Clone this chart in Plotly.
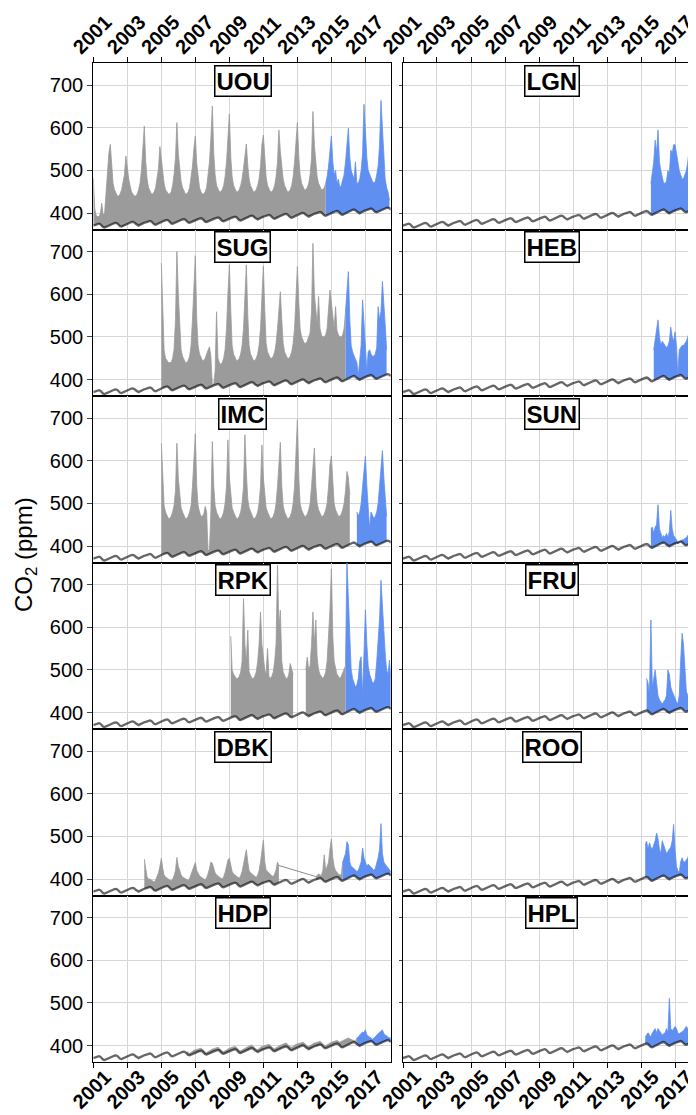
import pandas as pd
import plotly.graph_objects as go

FONT = "Liberation Sans, Arial, Helvetica, sans-serif"

# ---------------- data (ppm), monthly ----------------
# background CO2 (Jan 2001 .. Jul 2018)
background_co2 = [
    371.0, 372.0, 373.2, 374.6, 375.2, 373.9, 370.6, 367.3, 366.4, 368.1, 370.3, 372.0,
    373.0, 374.0, 375.2, 376.6, 377.2, 375.9, 372.6, 369.3, 368.4, 370.1, 372.3, 374.0,
    375.5, 376.5, 377.7, 379.1, 379.7, 378.4, 375.1, 371.8, 370.9, 372.6, 374.8, 376.5,
    377.5, 378.5, 379.7, 381.1, 381.7, 380.4, 377.1, 373.8, 372.9, 374.6, 376.8, 378.5,
    379.8, 380.8, 382.0, 383.4, 384.0, 382.7, 379.4, 376.1, 375.2, 376.9, 379.1, 380.8,
    381.9, 382.9, 384.1, 385.5, 386.1, 384.8, 381.5, 378.2, 377.3, 379.0, 381.2, 382.9,
    383.8, 384.8, 386.0, 387.4, 388.0, 386.7, 383.4, 380.1, 379.2, 380.9, 383.1, 384.8,
    385.6, 386.6, 387.8, 389.2, 389.8, 388.5, 385.2, 381.9, 381.0, 382.7, 384.9, 386.6,
    387.4, 388.4, 389.6, 391.0, 391.6, 390.3, 387.0, 383.7, 382.8, 384.5, 386.7, 388.4,
    389.9, 390.9, 392.1, 393.5, 394.1, 392.8, 389.5, 386.2, 385.3, 387.0, 389.2, 390.9,
    391.7, 392.7, 393.9, 395.3, 395.9, 394.6, 391.3, 388.0, 387.1, 388.8, 391.0, 392.7,
    393.9, 394.9, 396.1, 397.5, 398.1, 396.8, 393.5, 390.2, 389.3, 391.0, 393.2, 394.9,
    396.5, 397.5, 398.7, 400.1, 400.7, 399.4, 396.1, 392.8, 391.9, 393.6, 395.8, 397.5,
    398.6, 399.6, 400.8, 402.2, 402.8, 401.5, 398.2, 394.9, 394.0, 395.7, 397.9, 399.6,
    400.8, 401.8, 403.0, 404.4, 405.0, 403.7, 400.4, 397.1, 396.2, 397.9, 400.1, 401.8,
    404.2, 405.2, 406.4, 407.8, 408.4, 407.1, 403.8, 400.5, 399.6, 401.3, 403.5, 405.2,
    406.5, 407.5, 408.7, 410.1, 410.7, 409.4, 406.1, 402.8, 401.9, 403.6, 405.8, 407.5,
    408.7, 409.7, 410.9, 412.3, 412.9, 411.6, 408.4,
]

# ---- UOU
uou_gray = [  # from 2001-01
    482, 410, 395, 392, 392, 398, 423, 395, 400, 450, 500, 540,
    561, 505, 470, 455, 445, 440, 440, 445, 455, 470, 490, 534,
    500, 480, 465, 450, 445, 440, 440, 445, 455, 470, 500, 545,
    604, 520, 480, 460, 450, 445, 445, 450, 460, 480, 505, 556,
    520, 490, 470, 455, 450, 445, 445, 450, 465, 490, 530, 612,
    540, 495, 475, 460, 450, 445, 445, 450, 460, 480, 510, 550,
    581, 515, 480, 460, 450, 445, 445, 450, 460, 485, 520, 575,
    651, 540, 490, 465, 455, 450, 450, 455, 465, 485, 520, 580,
    632, 530, 485, 465, 455, 450, 450, 455, 465, 480, 505, 540,
    562, 510, 480, 465, 455, 450, 450, 455, 465, 480, 510, 560,
    583, 520, 485, 465, 455, 450, 450, 455, 465, 485, 520, 595,
    545, 500, 480, 465, 455, 450, 450, 455, 465, 485, 520, 570,
    612, 530, 490, 470, 460, 455, 455, 460, 470, 490, 530, 638,
    560, 510, 485, 470, 460, 455, 455, 460,
]
uou_blue = [  # from 2014-09
    470, 485, 510, 545,
    581, 520, 490, 500, 470, 480, 460, 465, 475, 490, 520, 560,
    599, 530, 500, 490, 480, 520, 470, 470, 480, 500, 540, 655,
    580, 530, 500, 490, 480, 475, 470, 475, 490, 510, 560, 664,
    600, 520, 480, 460, 450, 430,
]

# ---- SUG
sug_gray = [  # from 2005-01
    673, 540, 470, 450, 445, 440, 440, 440, 450, 470, 540, 700,
    600, 520, 470, 455, 445, 440, 440, 445, 455, 480, 540, 620,
    690, 540, 480, 460, 450, 445, 445, 450, 460, 470, 477, 455,
    388, 389, 420, 559, 450, 440, 435, 440, 450, 470, 520, 600,
    669, 560, 480, 460, 450, 445, 445, 450, 460, 480, 520, 580,
    669, 550, 480, 460, 450, 445, 445, 450, 460, 480, 520, 590,
    666, 560, 485, 465, 455, 450, 450, 455, 465, 485, 520, 570,
    606, 540, 485, 465, 455, 450, 450, 455, 465, 485, 520, 580,
    665, 580, 520, 500, 490, 485, 485, 490, 500, 510, 560, 719,
    600, 560, 530, 595, 520, 505, 500, 500, 505, 520, 560, 610,
    580, 540, 520, 571, 515, 505, 500, 500, 505, 520,
]
sug_blue = [  # from 2015-11
    560, 600,
    653, 540, 480, 465, 455, 450, 440, 410, 455, 480, 587, 540,
    470, 420, 465, 470, 460, 455, 455, 460, 475, 571, 540, 560,
    630, 560, 530, 470,
]

# ---- IMC
imc_gray = [  # from 2005-01
    641, 540, 495, 480, 470, 465, 465, 470, 480, 495, 530, 641,
    560, 510, 490, 480, 470, 465, 465, 470, 480, 495, 540, 610,
    663, 540, 495, 480, 470, 470, 475, 493, 480, 390, 392, 480,
    645, 540, 495, 480, 470, 465, 465, 470, 480, 500, 540, 649,
    560, 510, 490, 480, 470, 465, 465, 470, 480, 500, 540, 661,
    570, 510, 490, 480, 470, 465, 465, 470, 480, 500, 540, 637,
    560, 510, 490, 480, 470, 465, 465, 470, 480, 500, 540, 600,
    643, 540, 495, 480, 470, 465, 465, 470, 480, 500, 540, 610,
    696, 560, 500, 485, 475, 470, 470, 475, 485, 500, 540, 600,
    630, 540, 500, 485, 475, 470, 470, 475, 485, 500, 540, 590,
    611, 540, 500, 485, 475, 470, 470, 475, 485, 500, 530, 575,
    560, 520,
]
imc_blue = [  # from 2016-07
    480, 470, 480, 500, 540, 580,
    611, 540, 500, 440, 480, 470, 465, 470, 480, 500, 540, 590,
    624, 560, 520, 470,
]

# ---- RPK
rpk_gray_a = [  # from 2009-02
    579, 500, 490, 485, 480, 480, 485, 495, 520, 667,
    560, 520, 593, 495, 485, 480, 480, 485, 495, 520, 560, 636,
    560, 520, 500, 490, 550, 485, 480, 485, 495, 520, 560, 745,
    600, 640, 520, 495, 485, 480, 480, 490, 515, 500, 490,
]
rpk_gray_b = [  # from 2013-07
    500, 530, 500, 510, 560, 636,
    560, 617, 530, 500, 490, 485, 480, 485, 495, 520, 580, 640,
    737, 578, 520, 500, 490, 485, 480, 485, 495, 500,
]
rpk_blue = [  # from 2015-11
    510, 760,
    667, 560, 500, 480, 470, 460, 465, 480, 520, 531, 440, 560,
    641, 560, 510, 490, 480, 470, 470, 480, 520, 560, 620, 710,
    647, 580, 540, 500, 490, 523, 480,
]

# ---- DBK
dbk_gray_a = [  # from 2004-01
    447, 420, 405, 400, 400, 398, 395, 393, 398, 405, 415, 430,
    449, 425, 410, 405, 402, 400, 398, 396, 400, 408, 420, 451,
    430, 420, 410, 405, 403, 400, 398, 397, 402, 410, 420, 430,
    439, 420, 412, 408, 405, 402, 400, 398, 404, 412, 425, 440,
    437, 425, 415, 410, 407, 404, 402, 400, 406, 415, 430, 445,
    449, 430, 418, 412, 410, 407, 404, 402, 408, 418, 435, 455,
    469, 440, 420, 415, 412, 409, 406, 404, 410, 420, 440, 460,
    491, 440, 422, 418, 414, 410, 408, 406, 412, 422, 440, 432,
]
dbk_gray_b = [  # from 2014-02
    406, 410, 412, 410, 408, 420, 457, 420, 430, 440, 470,
    494, 450, 430, 420, 415, 412, 410, 410,
]
dbk_blue = [  # from 2015-09
    440, 450, 460, 488,
    480, 440, 430, 428, 425, 420, 418, 420, 430, 440, 473, 450,
    440, 430, 435, 430, 428, 425, 420, 425, 435, 450, 470, 530,
    460, 440, 435, 430, 425, 420, 418,
]

# ---- HDP
hdp_gray = [  # from 2006-07
    386, 383, 382, 384, 387, 389,
    390, 391, 392, 393, 394, 392, 388, 385, 384, 386, 389, 391,
    392, 393, 394, 395, 396, 394, 390, 387, 386, 388, 391, 393,
    394, 395, 396, 398, 398, 396, 392, 389, 388, 390, 393, 395,
    397, 398, 399, 401, 401, 399, 395, 392, 391, 393, 396, 398,
    399, 400, 401, 403, 403, 401, 397, 394, 393, 395, 398, 400,
    401, 402, 404, 405, 406, 404, 400, 397, 396, 398, 401, 403,
    404, 405, 406, 408, 408, 406, 402, 399, 398, 400, 403, 405,
    406, 407, 408, 410, 410, 408, 404, 401, 400, 402, 405, 407,
    408, 409, 410, 412, 412, 410, 408, 410, 412, 414, 415, 416,
    418, 416, 414, 413, 412, 410,
]
hdp_blue = [  # from 2016-07
    418, 420, 425, 428, 432, 430,
    437, 425, 422, 420, 418, 415, 418, 420, 425, 428, 430, 433,
    437, 428, 425, 422, 420, 418, 420,
]

# ---- right column sites (all blue)
lgn_blue = [  # from 2015-08
    470, 490, 520, 571, 540,
    595, 520, 500, 480, 470, 470, 475, 500, 490, 548, 540, 560,
    560, 540, 520, 500, 490, 480, 480, 490, 500, 520, 560, 580,
    570, 540, 520, 500, 490, 480, 480,
]
heb_blue = [  # from 2015-10
    470, 490, 510,
    540, 500, 480, 490, 485, 480, 475, 480, 490, 523, 500, 490,
    512, 480, 410, 470, 475, 480, 480, 485, 490, 500, 510, 520,
    510, 500, 490, 480,
]
sun_blue = [  # from 2015-08
    440, 445, 430, 445, 450,
    497, 440, 430, 420, 425, 420, 430, 420, 435, 484, 440, 425,
    420, 415, 405, 410, 412, 415, 415, 418, 420, 425, 430, 555,
    500, 460, 440, 430,
]
fru_blue = [  # from 2015-05
    480, 470, 440, 617, 460, 480, 500, 470,
    440, 430, 425, 420, 425, 430, 440, 500, 490, 460, 450, 440,
    430, 425, 420, 440, 520, 586, 560, 500, 450, 440, 430, 440,
    450, 440, 430, 425,
]
roo_blue = [  # from 2015-04
    480, 489, 470, 485, 475, 470, 480, 490, 508,
    495, 470, 460, 490, 480, 470, 460, 465, 470, 475, 490, 528,
    470, 430, 420, 415, 440, 450, 440, 440, 445, 450, 460, 470,
    460, 450, 440,
]
hpl_blue = [  # from 2015-04
    420, 425, 430, 425, 420, 430, 435, 440, 430,
    440, 435, 430, 425, 428, 430, 440, 430, 511, 440, 435, 440,
    445, 440, 430, 428, 430, 432, 435, 440, 445, 440, 438, 445,
    450, 445, 440,
]

site_names = ["UOU", "LGN", "SUG", "HEB", "IMC", "SUN",
              "RPK", "FRU", "DBK", "ROO", "HDP", "HPL"]
site_segments = {
    "UOU": [("2001-01", "gray", uou_gray), ("2014-09", "blue", uou_blue)],
    "SUG": [("2005-01", "gray", sug_gray), ("2015-11", "blue", sug_blue)],
    "IMC": [("2005-01", "gray", imc_gray), ("2016-07", "blue", imc_blue)],
    "RPK": [("2009-02", "gray", rpk_gray_a), ("2013-07", "gray", rpk_gray_b),
            ("2015-11", "blue", rpk_blue)],
    "DBK": [("2004-01", "gray", dbk_gray_a), ("2014-02", "gray", dbk_gray_b),
            ("2015-09", "blue", dbk_blue)],
    "HDP": [("2006-07", "gray", hdp_gray), ("2016-07", "blue", hdp_blue)],
    "LGN": [("2015-08", "blue", lgn_blue)],
    "HEB": [("2015-10", "blue", heb_blue)],
    "SUN": [("2015-08", "blue", sun_blue)],
    "FRU": [("2015-05", "blue", fru_blue)],
    "ROO": [("2015-04", "blue", roo_blue)],
    "HPL": [("2015-04", "blue", hpl_blue)],
}
connected_gaps = {"DBK"}   # data gap bridged by a thin line in the original
y_ticks = [400, 500, 600, 700]
y_range = [361, 751]
x_tick_start = "2001-01-01"

# ---------------- styling ----------------
# page body has an 8px margin, so the figure is laid out in page px - 8
OFF = 8
W, H = 696 - OFF, 1115 - OFF
COLORS = {"gray": "#9b9b9b", "blue": "#5f8ff0"}
BG_LINE = "rgba(0,0,0,0.6)"
GRID = "#d6d6d6"

months = pd.date_range("2001-01-01", periods=len(background_co2), freq="MS")


def midx(s):
    y, m = s.split("-")
    return (int(y) - 2001) * 12 + int(m) - 1


col_px = [(93.3 - OFF, 390.7 - OFF), (403.0 - OFF, 696.0 - OFF)]
col_range_end = ["2018-06-28", "2018-03-27"]
row_top0, row_h = 63.3 - OFF, 166.5

fig = go.Figure()
layout = {}
annotations = []

for p, name in enumerate(site_names):
    r, c = divmod(p, 2)
    n = p + 1
    xa = "x" if n == 1 else f"x{n}"
    ya = "y" if n == 1 else f"y{n}"

    segs = site_segments[name]
    for k, (start, ckey, vals) in enumerate(segs):
        i0 = midx(start)
        xs = list(months[i0:i0 + len(vals)])
        lo = background_co2[i0:i0 + len(vals)]
        hi = list(vals)
        if k + 1 < len(segs):
            nstart, _, nvals = segs[k + 1]
            j0 = midx(nstart)
            if j0 == i0 + len(vals):
                xs = xs + [months[j0]]
                lo = background_co2[i0:j0 + 1]
                hi = hi + [nvals[0]]
            elif name in connected_gaps:
                fig.add_trace(go.Scatter(
                    x=[xs[-1], months[j0]], y=[hi[-1], nvals[0]], mode="lines",
                    line=dict(color="#8a8a8a", width=1), xaxis=xa, yaxis=ya,
                    showlegend=False, hoverinfo="skip"))
        fig.add_trace(go.Scatter(x=xs, y=lo, mode="lines", line=dict(width=0),
                                 xaxis=xa, yaxis=ya, showlegend=False,
                                 hoverinfo="skip"))
        fig.add_trace(go.Scatter(x=xs, y=hi, mode="lines", fill="tonexty",
                                 fillcolor=COLORS[ckey],
                                 line=dict(color=COLORS[ckey], width=0.8),
                                 xaxis=xa, yaxis=ya, showlegend=False))

    fig.add_trace(go.Scatter(x=months, y=background_co2, mode="lines",
                             line=dict(color=BG_LINE, width=2.3),
                             xaxis=xa, yaxis=ya, showlegend=False))

    x0px, x1px = col_px[c]
    top = row_top0 + r * row_h
    bot = top + row_h
    xdom = [x0px / W, min(x1px / W, 1.0)]
    ydom = [max(1 - bot / H, 0.0), 1 - top / H]

    xaxis = dict(
        domain=xdom, anchor=ya, type="date",
        range=["2001-01-01", col_range_end[c]],
        tick0=x_tick_start, dtick="M24", tickformat="%Y",
        showgrid=True, gridcolor=GRID, gridwidth=1.3,
        showline=True, linecolor="black", linewidth=1.3, mirror=True,
        zeroline=False,
        tickfont=dict(family=FONT, size=20, color="black", weight="bold"),
        tickcolor="black", ticklen=5, tickwidth=1.2,
        ticklabeloverflow="allow",
    )
    if r == 0:
        xaxis.update(side="top", ticks="outside", showticklabels=True,
                     tickangle=-45, ticklabelshift=-19, ticklabelstandoff=-9)
    elif r == 5:
        xaxis.update(side="bottom", ticks="outside", showticklabels=True,
                     tickangle=-45, ticklabelshift=12, ticklabelstandoff=-11)
    else:
        xaxis.update(ticks="", showticklabels=False)

    yaxis = dict(
        domain=ydom, anchor=xa, range=y_range, tickvals=y_ticks,
        showgrid=True, gridcolor=GRID, gridwidth=1.3,
        showline=True, linecolor="black", linewidth=1.3,
        mirror=(c == 0), zeroline=False,
        ticks="outside", ticklen=5 if c == 0 else 3, tickcolor="#444",
        tickwidth=1, showticklabels=(c == 0),
        tickfont=dict(family=FONT, size=20, color="black"),
    )
    layout["xaxis" if n == 1 else f"xaxis{n}"] = xaxis
    layout["yaxis" if n == 1 else f"yaxis{n}"] = yaxis

    cx = (242.5 if c == 0 else 551.5) - OFF
    annotations.append(dict(
        text=f"<b>{name}</b>", x=cx / W, y=1 - (top + 1.5) / H,
        xref="paper", yref="paper", xanchor="center", yanchor="top",
        showarrow=False, bgcolor="white", bordercolor="black",
        borderwidth=1.5, borderpad=1,
        font=dict(family=FONT, size=24, color="black")))

annotations.append(dict(
    text="CO<sub>2</sub> (ppm)", x=(25 - OFF) / W, y=1 - (555 - OFF) / H,
    xref="paper", yref="paper", xanchor="center", yanchor="middle",
    textangle=-90, showarrow=False,
    font=dict(family=FONT, size=24, color="black")))

fig.update_layout(
    width=W, height=H, margin=dict(l=0, r=0, t=0, b=0, autoexpand=False),
    paper_bgcolor="white", plot_bgcolor="white", showlegend=False,
    annotations=annotations, **layout)

fig.write_html("out.html")
